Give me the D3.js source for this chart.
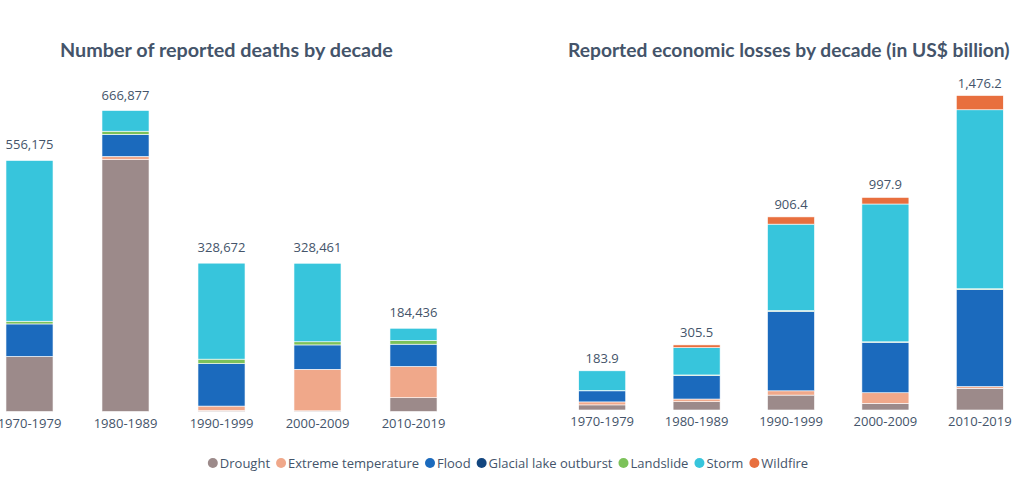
<!DOCTYPE html>
<html><head><meta charset="utf-8">
<script src="https://cdn.jsdelivr.net/npm/d3@7"></script>
<style>html,body{margin:0;padding:0;background:#fff;}svg{display:block;}</style>
</head><body>
<svg id="chart" width="1024" height="489"></svg>
<script>
const categories = ["1970-1979","1980-1989","1990-1999","2000-2009","2010-2019"];
const seriesNames = ["Drought","Extreme temperature","Flood","Glacial lake outburst","Landslide","Storm","Wildfire"];
const seriesColors = ["#9c8a8a","#f0a88a","#1b6abd","#13467f","#7cc25a","#37c5dc","#e86f3e"];

// Deaths by decade
const deathsDrought   = [122000, 558000, 2000, 1500, 30536];
const deathsExtreme   = [0, 7000, 10000, 92000, 69300];
const deathsFlood     = [72000, 49000, 94000, 54000, 49300];
const deathsGlacial   = [0, 0, 0, 0, 0];
const deathsLandslide = [6000, 7000, 10000, 7000, 8300];
const deathsStorm     = [356175, 45877, 212672, 173961, 27000];
const deathsWildfire  = [0, 0, 0, 0, 0];

// Economic losses by decade (US$ billion)
const lossDrought   = [24, 39, 70, 31, 102];
const lossExtreme   = [14, 12.5, 20, 50, 8];
const lossFlood     = [52, 111, 373.4, 237, 456];
const lossGlacial   = [0, 0, 0, 0, 0];
const lossLandslide = [1, 2, 3, 2, 3];
const lossStorm     = [92.9, 128.5, 406, 646.9, 840.2];
const lossWildfire  = [0, 12.5, 34, 31, 67];

const titles = ["Number of reported deaths by decade","Reported economic losses by decade (in US$ billion)"];

const svg = d3.select("#chart");
const textColor = "#44546a";
const font = "'Open Sans', sans-serif";

function buildRows(arrs){
  return categories.map((c,i)=>{
    const r = {cat:c};
    seriesNames.forEach((s,j)=>r[s]=arrs[j][i]);
    return r;
  });
}

function drawPanel(cfg){
  const rows = buildRows(cfg.arrs);
  const x = d3.scaleBand().domain(categories).range(cfg.xr).paddingInner(cfg.pi).paddingOuter(cfg.pi/2);
  const totals = rows.map(r=>d3.sum(seriesNames,s=>r[s]));
  const y = d3.scaleLinear().domain([0, cfg.ymax]).range([cfg.y0, cfg.ytop]);
  const stacked = d3.stack().keys(seriesNames)(rows);
  const g = svg.append("g");
  g.selectAll("g.s").data(stacked).join("g").attr("fill",(d,i)=>seriesColors[i])
    .selectAll("rect").data(d=>d.filter(p=>p[1]-p[0]>0)).join("rect")
    .attr("x",d=>x(d.data.cat)).attr("width",x.bandwidth())
    .attr("y",d=>y(d[1])).attr("height",d=>y(d[0])-y(d[1]))
    .attr("stroke","#ffffff").attr("stroke-width",0.6);
  g.selectAll("text.tot").data(rows).join("text")
    .attr("x",d=>x(d.cat)+x.bandwidth()/2)
    .attr("y",(d,i)=>y(totals[i])-cfg.labOff)
    .attr("text-anchor","middle").attr("fill",textColor)
    .attr("font-family",font).attr("font-size",13)
    .text((d,i)=>cfg.fmt(totals[i]));
  const ax = d3.axisBottom(x).tickSize(0).tickPadding(0);
  const axg = g.append("g").attr("transform",`translate(0,${cfg.y0})`).call(ax);
  axg.select(".domain").remove();
  axg.selectAll("text").attr("fill",textColor).attr("font-family",font).attr("font-size",13)
    .attr("dy",null).attr("y",16);
  // title
  const t = g.append("text").attr("x",cfg.tx).attr("y",57).attr("fill",textColor)
    .attr("font-family","Lato, sans-serif").attr("font-weight","bold").attr("font-size",18).text(cfg.title);
  const w = t.node().getComputedTextLength();
  t.attr("font-size",18*cfg.tw/w);
}

drawPanel({
  arrs:[deathsDrought,deathsExtreme,deathsFlood,deathsGlacial,deathsLandslide,deathsStorm,deathsWildfire],
  xr:[-18.5,461.5], pi:0.51, y0:411.5, ymax:666877, ytop:110.5, labOff:11,
  fmt:d3.format(","), title:titles[0], tx:60, tw:333
});
drawPanel({
  arrs:[lossDrought,lossExtreme,lossFlood,lossGlacial,lossLandslide,lossStorm,lossWildfire],
  xr:[555,1027], pi:0.502, y0:410, ymax:1476.2, ytop:95.5, labOff:8,
  fmt:d3.format(",.1f"), title:titles[1], tx:568, tw:442
});

// legend
const lg = svg.append("g");
let cx = 0;
const items = [];
seriesNames.forEach((s,i)=>{
  const it = lg.append("g");
  it.append("circle").attr("cx",5).attr("cy",0).attr("r",5).attr("fill",seriesColors[i]);
  const tt = it.append("text").attr("x",12).attr("y",4.5).attr("fill",textColor)
    .attr("font-family",font).attr("font-size",13).text(s);
  const w = 12 + tt.node().getComputedTextLength();
  it.attr("transform",`translate(${cx},0)`);
  cx += w + 6;
});
const total = cx - 6;
lg.attr("transform",`translate(${508 - total/2},463)`);
</script>
</body></html>
